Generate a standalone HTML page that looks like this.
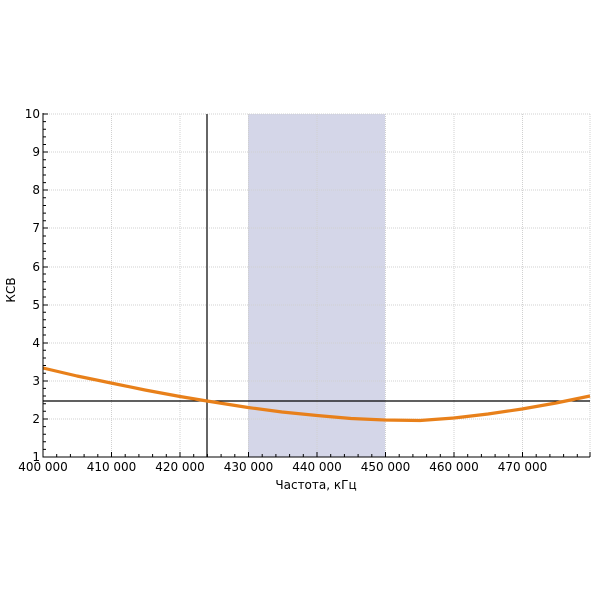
<!DOCTYPE html>
<html><head><meta charset="utf-8"><style>html,body{margin:0;padding:0;background:#fff}svg{display:block}</style></head><body>
<svg width="600" height="600" viewBox="0 0 600 600" xmlns="http://www.w3.org/2000/svg" font-family="DejaVu Sans, Liberation Sans, sans-serif" font-size="11.5" fill="#000">
<rect x="248" y="114" width="137" height="343" fill="#d4d6e8"/>
<g stroke="#d0d0d0" stroke-width="1" stroke-dasharray="1,1">
<line x1="43" y1="114" x2="590" y2="114"/><line x1="43" y1="152" x2="590" y2="152"/><line x1="43" y1="190" x2="590" y2="190"/><line x1="43" y1="228" x2="590" y2="228"/><line x1="43" y1="267" x2="590" y2="267"/><line x1="43" y1="305" x2="590" y2="305"/><line x1="43" y1="343" x2="590" y2="343"/><line x1="43" y1="381" x2="590" y2="381"/><line x1="43" y1="419" x2="590" y2="419"/>
<line x1="111.5" y1="114" x2="111.5" y2="457"/><line x1="180" y1="114" x2="180" y2="457"/><line x1="248.5" y1="114" x2="248.5" y2="457"/><line x1="317" y1="114" x2="317" y2="457"/><line x1="385.5" y1="114" x2="385.5" y2="457"/><line x1="454" y1="114" x2="454" y2="457"/><line x1="522.5" y1="114" x2="522.5" y2="457"/><line x1="590" y1="114" x2="590" y2="457"/>
</g>
<line x1="43" y1="401" x2="590" y2="401" stroke="#000" stroke-width="1.3"/>
<line x1="207" y1="114" x2="207" y2="457" stroke="#666" stroke-width="2"/>
<polyline points="43,368 77,376 111,383 145,390 180,396.5 207,401 248,407.5 282,412 317,415.5 351,418.5 385,420 420,420.5 454,418 488,414 522,409 556,403 590,396" fill="none" stroke="#e8801a" stroke-width="3.2" stroke-linejoin="round"/>
<g stroke="#000" stroke-width="1">
<line x1="43" y1="113" x2="43" y2="457.5"/><line x1="42.5" y1="457" x2="590" y2="457"/>
</g>
<g stroke="#000" stroke-width="1">
<path d="M43,114h5M43,152h5M43,190h5M43,228h5M43,267h5M43,305h5M43,343h5M43,381h5M43,419h5"/>
<path d="M43,121.6h3M43,129.2h3M43,136.9h3M43,144.5h3M43,159.7h3M43,167.4h3M43,175h3M43,182.6h3M43,197.8h3M43,205.5h3M43,213.1h3M43,220.7h3M43,236h3M43,243.6h3M43,251.2h3M43,258.8h3M43,274h3M43,281.7h3M43,289.3h3M43,297h3M43,312.2h3M43,319.8h3M43,327.4h3M43,335h3M43,350.3h3M43,358h3M43,365.5h3M43,373.2h3M43,388.4h3M43,396h3M43,403.7h3M43,411.3h3M43,426.6h3M43,434.2h3M43,441.8h3M43,449.4h3"/>
<path d="M111.5,457v-5M180,457v-5M248.5,457v-5M317,457v-5M385.5,457v-5M454,457v-5M522.5,457v-5M590,457v-5"/>
<path d="M56.7,457v-3M70.4,457v-3M84.1,457v-3M97.8,457v-3M125.2,457v-3M138.9,457v-3M152.6,457v-3M166.3,457v-3M193.7,457v-3M207.4,457v-3M221.1,457v-3M234.8,457v-3M262.2,457v-3M275.9,457v-3M289.6,457v-3M303.3,457v-3M330.7,457v-3M344.4,457v-3M358.1,457v-3M371.8,457v-3M399.2,457v-3M412.9,457v-3M426.6,457v-3M440.3,457v-3M467.7,457v-3M481.4,457v-3M495.1,457v-3M508.8,457v-3M536.2,457v-3M549.9,457v-3M563.6,457v-3M577.3,457v-3"/>
</g>
<g text-anchor="end" font-size="12">
<text x="40" y="118">10</text><text x="40" y="156">9</text><text x="40" y="194">8</text><text x="40" y="232">7</text><text x="40" y="271">6</text><text x="40" y="309">5</text><text x="40" y="347">4</text><text x="40" y="385">3</text><text x="40" y="423">2</text><text x="40" y="461">1</text>
</g>
<g text-anchor="middle" font-size="12">
<text x="43" y="471">400 000</text><text x="111.5" y="471">410 000</text><text x="180" y="471">420 000</text><text x="248.5" y="471">430 000</text><text x="317" y="471">440 000</text><text x="385.5" y="471">450 000</text><text x="454" y="471">460 000</text><text x="522.5" y="471">470 000</text>
<text x="316" y="489">Частота, кГц</text>
<text transform="translate(15,290) rotate(-90)">КСВ</text>
</g>
</svg>
</body></html>
